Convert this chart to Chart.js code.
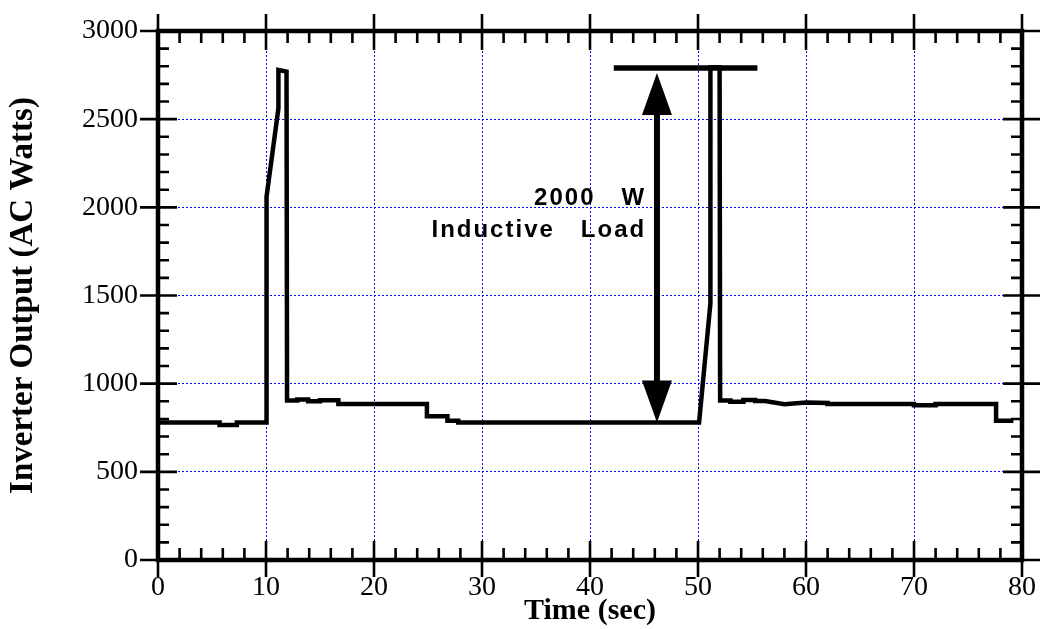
<!DOCTYPE html>
<html>
<head>
<meta charset="utf-8">
<title>Inverter Output</title>
<script src="https://cdn.jsdelivr.net/npm/chart.js@4.4.1/dist/chart.umd.min.js"></script>
<style>
    html, body { margin: 0; padding: 0; background: #fff; }
    #wrap { position: relative; width: 1043px; height: 629px; }
</style>
</head>
<body>
<div id="wrap"><canvas id="inverter-chart"></canvas></div>
<script>
// Datos (tiempo en s, potencia en W AC)
const timeSec = [
    0, 5.7, 5.7, 7.3, 7.3, 10.05, 10.05, 11.15, 11.15, 11.9, 11.95,
    12.9, 12.9, 13.9, 13.9, 15.0, 15.0, 16.7, 16.7, 24.9, 24.9, 26.8, 26.8, 27.8, 27.8,
    50.1, 51.15, 51.15, 52.0, 52.05,
    53.0, 53.0, 54.2, 54.2, 55.3, 55.3, 56.2, 58.0, 60.0, 62.0, 62.0, 70.0, 70.0, 72.0, 72.0, 77.6, 77.6, 79.2
];
const watts = [
    780, 780, 766, 766, 780, 780, 2060, 2562, 2779, 2770, 904,
    904, 910, 910, 900, 900, 906, 906, 885, 885, 815, 815, 790, 790, 780,
    780, 1456, 2795, 2795, 905,
    905, 898, 898, 908, 908, 902, 902, 883, 893, 890, 885, 885, 878, 878, 885, 885, 790, 790
];

// Escalas
const xTicks = [0, 10, 20, 30, 40, 50, 60, 70, 80];
const yTicks = [0, 500, 1000, 1500, 2000, 2500, 3000];
const xMinorStep = 2;
const yMinorStep = 100;

// Anotación de la carga inductiva
const barFrom = 42.2;      // s
const barTo = 55.5;        // s
const barLevel = 2790;     // W
const arrowAt = 46.2;      // s
const arrowLow = 780;      // W
const noteLines = ['2000   W', 'Inductive   Load'];
const noteRight = 45.2;    // s
const noteBaselines = [2013, 1834]; // W

// Marco y marcas de los ejes, hacia dentro y hacia fuera
const framePlugin = {
    id: 'frame',
    afterDraw(chart) {
        const { ctx, chartArea: a, scales: { x, y } } = chart;
        ctx.save();
        ctx.strokeStyle = '#000';
        ctx.lineCap = 'butt';

        ctx.lineWidth = 2.6;
        ctx.beginPath();
        for (let v = 0; v <= 80; v += xMinorStep) {
            const px = x.getPixelForValue(v);
            const major = v % 10 === 0;
            const inL = major ? 19 : 12;
            const outL = major ? 17 : 0;
            ctx.moveTo(px, a.bottom + outL); ctx.lineTo(px, a.bottom - inL);
            ctx.moveTo(px, a.top - outL); ctx.lineTo(px, a.top + inL);
        }
        for (let v = 0; v <= 3000; v += yMinorStep) {
            const py = y.getPixelForValue(v);
            const major = v % 500 === 0;
            const inL = major ? 19 : 11;
            const outL = major ? 18 : 0;
            ctx.moveTo(a.left - outL, py); ctx.lineTo(a.left + inL, py);
            ctx.moveTo(a.right + outL, py); ctx.lineTo(a.right - inL, py);
        }
        ctx.stroke();

        ctx.lineWidth = 4.5;
        ctx.strokeRect(a.left, a.top, a.right - a.left, a.bottom - a.top);
        ctx.restore();
    }
};

// Barra, flecha doble y texto
const notePlugin = {
    id: 'note',
    afterDatasetsDraw(chart) {
        const { ctx, scales: { x, y } } = chart;
        const yBar = y.getPixelForValue(barLevel);
        const yLow = y.getPixelForValue(arrowLow);
        const xa = x.getPixelForValue(arrowAt);
        const headH = 42, headW = 30;

        ctx.save();
        ctx.strokeStyle = '#000';
        ctx.fillStyle = '#000';

        ctx.lineWidth = 5.5;
        ctx.beginPath();
        ctx.moveTo(x.getPixelForValue(barFrom), yBar);
        ctx.lineTo(x.getPixelForValue(barTo), yBar);
        ctx.stroke();

        ctx.lineWidth = 6;
        ctx.beginPath();
        ctx.moveTo(xa, yBar + 6 + headH - 2);
        ctx.lineTo(xa, yLow - headH + 2);
        ctx.stroke();

        // puntas de flecha
        ctx.beginPath();
        ctx.moveTo(xa, yBar + 5);
        ctx.lineTo(xa - headW / 2, yBar + 5 + headH);
        ctx.lineTo(xa + headW / 2, yBar + 5 + headH);
        ctx.closePath();
        ctx.moveTo(xa, yLow);
        ctx.lineTo(xa - headW / 2, yLow - headH);
        ctx.lineTo(xa + headW / 2, yLow - headH);
        ctx.closePath();
        ctx.fill();

        ctx.font = 'bold 24px "Liberation Sans", Arial, sans-serif';
        ctx.letterSpacing = '2px';
        ctx.textAlign = 'right';
        ctx.textBaseline = 'alphabetic';
        const xr = x.getPixelForValue(noteRight);
        noteLines.forEach((t, i) => ctx.fillText(t, xr, y.getPixelForValue(noteBaselines[i])));
        ctx.restore();
    }
};

const points = timeSec.map((t, i) => ({ x: t, y: watts[i] }));
const serif = '"Liberation Serif", "Times New Roman", serif';

new Chart(document.getElementById('inverter-chart'), {
    type: 'line',
    data: {
        datasets: [{
            data: points,
            borderColor: '#000',
            borderWidth: 4.5,
            borderJoinStyle: 'miter',
            pointRadius: 0,
            tension: 0,
            fill: false
        }]
    },
    options: {
        responsive: true,
        maintainAspectRatio: false,
        animation: false,
        layout: { padding: { top: 31, right: 21, left: 0, bottom: 0 } },
        plugins: {
            legend: { display: false },
            tooltip: { enabled: false }
        },
        scales: {
            x: {
                type: 'linear',
                min: 0,
                max: 80,
                afterFit(scale) {
                    scale.height = 69;
                    scale.paddingLeft = 0;
                    scale.paddingRight = 0;
                },
                afterBuildTicks(scale) { scale.ticks = xTicks.map(v => ({ value: v })); },
                ticks: {
                    color: '#000',
                    font: { family: serif, size: 28 },
                    padding: 11,
                    maxRotation: 0,
                    callback: v => String(v)
                },
                grid: { color: '#0000ff', lineWidth: 1, drawTicks: false },
                border: { display: false, dash: [2, 2] },
                title: {
                    display: true,
                    text: 'Time (sec)',
                    color: '#000',
                    font: { family: serif, size: 30, weight: 'bold' },
                    padding: { top: 0, bottom: 0 }
                }
            },
            y: {
                min: 0,
                max: 3000,
                afterFit(scale) {
                    scale.width = 158;
                    scale.paddingTop = 0;
                    scale.paddingBottom = 0;
                },
                afterBuildTicks(scale) { scale.ticks = yTicks.map(v => ({ value: v })); },
                ticks: {
                    color: '#000',
                    font: { family: serif, size: 28 },
                    padding: 20,
                    callback: v => String(v)
                },
                grid: { color: '#0000ff', lineWidth: 1, drawTicks: false },
                border: { display: false, dash: [2, 2] },
                title: {
                    display: true,
                    text: 'Inverter Output (AC Watts)',
                    color: '#000',
                    font: { family: serif, size: 33, weight: 'bold' },
                    padding: { top: 4, bottom: 0 }
                }
            }
        }
    },
    plugins: [notePlugin, framePlugin]
});
</script>
</body>
</html>
